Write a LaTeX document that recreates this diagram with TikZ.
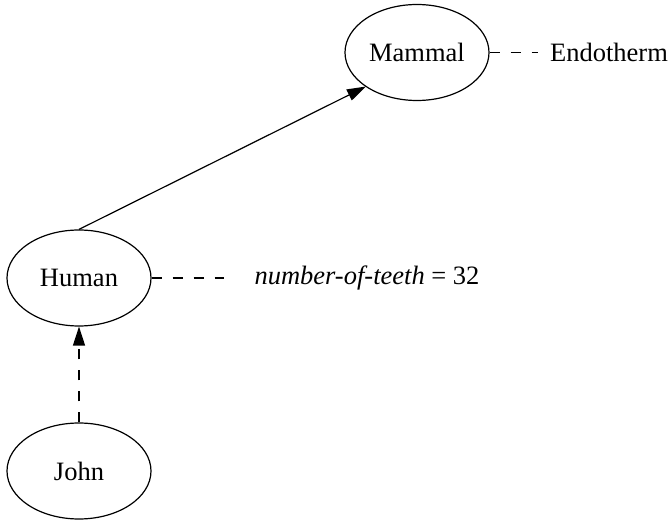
\documentclass[tikz,border=0pt]{standalone}
\usepackage{fontspec}
\setmainfont{Liberation Serif}
\usetikzlibrary{shapes.geometric,arrows.meta}
\begin{document}
\begin{tikzpicture}[x=1pt,y=-1pt,
  every node/.style={font=\fontsize{26.5}{31}\selectfont},
  concept/.style={draw,ellipse,line width=1.2pt,minimum width=144pt,minimum height=96pt,inner sep=0pt},
  label text/.style={inner sep=0pt},
  isa/.style={line width=1.2pt,-{Stealth[length=19pt,width=12pt,inset=0pt]}},
  attr/.style={line width=1.2pt,dash pattern=on 10.5pt off 10.5pt}]
\useasboundingbox (0,0) rectangle (670,521);
\node[concept] (mammal) at (417,52.5) {Mammal};
\node[concept] (human) at (79,278) {Human};
\node[concept] (john) at (79,471) {John};
\node[label text] (endo) at (609,52.5) {Endotherm};
\node[label text] (teeth) at (367,278) {\textit{number-of-teeth} = 32};
\coordinate (e1) at (538,52.5);
\coordinate (t1) at (224,278);
\draw[isa] (human.north) -- (366,86.5);
\draw[isa,attr] (john.north) -- (human.south);
\draw[attr] (mammal.east) -- (e1);
\draw[attr] (human.east) -- (t1);
\end{tikzpicture}
\end{document}
